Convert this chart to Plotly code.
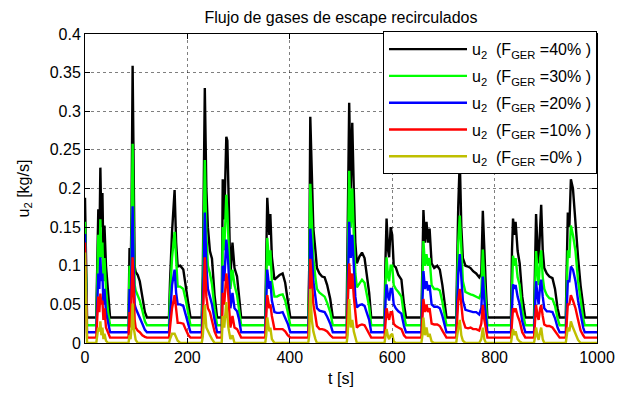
import plotly.graph_objects as go

# time [s]
t = [0, 2, 4,
     22, 24, 26, 28, 30, 32, 34, 36, 38, 41, 45, 49,
     85, 87, 89, 91, 93, 95, 97, 99, 103, 107, 112, 117, 121,
     164, 166, 170, 175, 178, 181, 186, 192, 197, 202, 206,
     228, 230, 232, 234, 237, 240, 244, 248, 253, 258,
     267, 269, 272, 276, 278, 280, 284, 288, 292, 297, 301, 305,
     352, 354, 356, 360, 362, 365, 370, 375, 380, 386, 391, 396, 401,
     436, 438, 440, 443, 446, 450, 453, 458, 463, 468, 473, 479, 484,
     511, 513, 516, 519, 522, 525, 528, 531, 536, 541, 546, 550, 555, 559,
     585, 587, 589, 592, 594, 597, 600, 603, 607, 612, 618, 623, 627,
     657, 659, 661, 664, 667, 670, 673, 677, 682, 688, 693, 698, 703, 706,
     725, 727, 729, 732, 735, 738, 743, 748, 753, 758, 764, 770, 774, 777, 780, 783, 786,
     832, 834, 836, 839, 841, 845, 849, 854, 860,
     877, 879, 881, 884, 886, 889, 891, 894, 897, 902, 907, 913, 918, 923, 927,
     939, 941, 943, 946, 949, 953, 958, 963, 968, 973, 976, 1000]

u2_40 = [0.188, 0.12, 0.033,
         0.033, 0.09, 0.173, 0.12, 0.227, 0.15, 0.194, 0.11, 0.152, 0.10, 0.06, 0.033,
         0.033, 0.123, 0.08, 0.18, 0.359, 0.2, 0.099, 0.092, 0.088, 0.08, 0.06, 0.04, 0.033,
         0.033, 0.078, 0.144, 0.198, 0.13, 0.099, 0.10, 0.095, 0.075, 0.05, 0.033,
         0.033, 0.086, 0.2, 0.33, 0.2, 0.15, 0.119, 0.109, 0.062, 0.033,
         0.033, 0.212, 0.16, 0.267, 0.262, 0.194, 0.086, 0.13, 0.097, 0.086, 0.06, 0.033,
         0.033, 0.12, 0.188, 0.14, 0.167, 0.111, 0.082, 0.085, 0.088, 0.09, 0.078, 0.055, 0.033,
         0.033, 0.1, 0.293, 0.2, 0.148, 0.12, 0.097, 0.09, 0.086, 0.085, 0.075, 0.057, 0.033,
         0.033, 0.12, 0.311, 0.2, 0.285, 0.198, 0.13, 0.103, 0.112, 0.117, 0.11, 0.09, 0.065, 0.033,
         0.033, 0.11, 0.161, 0.12, 0.111, 0.15, 0.14, 0.1, 0.098, 0.088, 0.082, 0.05, 0.033,
         0.033, 0.12, 0.172, 0.13, 0.157, 0.13, 0.148, 0.103, 0.097, 0.1, 0.095, 0.075, 0.05, 0.033,
         0.033, 0.12, 0.177, 0.238, 0.15, 0.11, 0.1, 0.099, 0.097, 0.093, 0.09, 0.085, 0.09, 0.171, 0.11, 0.07, 0.033,
         0.033, 0.12, 0.161, 0.14, 0.157, 0.119, 0.103, 0.06, 0.033,
         0.033, 0.1, 0.167, 0.12, 0.103, 0.15, 0.179, 0.12, 0.097, 0.09, 0.086, 0.084, 0.07, 0.045, 0.033,
         0.033, 0.12, 0.169, 0.15, 0.212, 0.2, 0.152, 0.111, 0.074, 0.045, 0.033, 0.033]

u2_30 = [0.157, 0.10, 0.023,
         0.023, 0.07, 0.14, 0.10, 0.16, 0.11, 0.13, 0.08, 0.11, 0.07, 0.04, 0.023,
         0.023, 0.10, 0.06, 0.14, 0.258, 0.15, 0.075, 0.068, 0.062, 0.055, 0.042, 0.028, 0.023,
         0.023, 0.06, 0.11, 0.144, 0.10, 0.073, 0.073, 0.07, 0.055, 0.035, 0.023,
         0.023, 0.065, 0.15, 0.237, 0.14, 0.1, 0.09, 0.076, 0.045, 0.023,
         0.023, 0.15, 0.12, 0.192, 0.17, 0.14, 0.07, 0.095, 0.075, 0.062, 0.045, 0.023,
         0.023, 0.09, 0.136, 0.1, 0.12, 0.08, 0.06, 0.06, 0.062, 0.063, 0.055, 0.04, 0.023,
         0.023, 0.08, 0.206, 0.15, 0.11, 0.085, 0.07, 0.065, 0.062, 0.06, 0.052, 0.04, 0.023,
         0.023, 0.09, 0.223, 0.15, 0.2, 0.14, 0.09, 0.072, 0.078, 0.082, 0.078, 0.065, 0.047, 0.023,
         0.023, 0.08, 0.111, 0.085, 0.08, 0.1, 0.1, 0.075, 0.07, 0.066, 0.06, 0.036, 0.023,
         0.023, 0.09, 0.132, 0.1, 0.115, 0.1, 0.11, 0.075, 0.07, 0.07, 0.068, 0.053, 0.035, 0.023,
         0.023, 0.09, 0.13, 0.165, 0.11, 0.08, 0.066, 0.064, 0.063, 0.062, 0.06, 0.058, 0.065, 0.121, 0.08, 0.05, 0.023,
         0.023, 0.085, 0.113, 0.1, 0.11, 0.085, 0.075, 0.042, 0.023,
         0.023, 0.07, 0.119, 0.09, 0.075, 0.11, 0.12, 0.085, 0.07, 0.062, 0.058, 0.057, 0.048, 0.032, 0.023,
         0.023, 0.09, 0.12, 0.11, 0.152, 0.14, 0.119, 0.08, 0.055, 0.032, 0.023, 0.023]

u2_20 = [0.141, 0.08, 0.014,
         0.014, 0.05, 0.09, 0.07, 0.111, 0.08, 0.09, 0.05, 0.07, 0.04, 0.025, 0.014,
         0.014, 0.07, 0.04, 0.10, 0.177, 0.10, 0.05, 0.045, 0.038, 0.033, 0.025, 0.017, 0.014,
         0.014, 0.04, 0.075, 0.095, 0.065, 0.05, 0.05, 0.048, 0.035, 0.022, 0.014,
         0.014, 0.045, 0.1, 0.169, 0.1, 0.07, 0.06, 0.05, 0.03, 0.014,
         0.014, 0.1, 0.08, 0.134, 0.12, 0.1, 0.045, 0.065, 0.045, 0.041, 0.03, 0.014,
         0.014, 0.06, 0.095, 0.07, 0.08, 0.055, 0.04, 0.039, 0.039, 0.04, 0.033, 0.025, 0.014,
         0.014, 0.055, 0.148, 0.12, 0.08, 0.06, 0.045, 0.042, 0.041, 0.04, 0.034, 0.025, 0.014,
         0.014, 0.06, 0.157, 0.11, 0.14, 0.1, 0.06, 0.046, 0.049, 0.05, 0.048, 0.04, 0.03, 0.014,
         0.014, 0.055, 0.076, 0.06, 0.055, 0.07, 0.07, 0.05, 0.045, 0.041, 0.038, 0.022, 0.014,
         0.014, 0.06, 0.093, 0.07, 0.08, 0.068, 0.075, 0.05, 0.047, 0.047, 0.045, 0.035, 0.022, 0.014,
         0.014, 0.06, 0.09, 0.115, 0.08, 0.055, 0.043, 0.042, 0.042, 0.04, 0.04, 0.037, 0.045, 0.086, 0.055, 0.03, 0.014,
         0.014, 0.06, 0.076, 0.07, 0.075, 0.06, 0.05, 0.028, 0.014,
         0.014, 0.05, 0.08, 0.06, 0.05, 0.075, 0.082, 0.06, 0.045, 0.041, 0.041, 0.04, 0.032, 0.02, 0.014,
         0.014, 0.06, 0.08, 0.08, 0.099, 0.095, 0.08, 0.055, 0.035, 0.02, 0.014, 0.014]

u2_10 = [0.13, 0.06, 0.007,
         0.007, 0.03, 0.06, 0.04, 0.064, 0.05, 0.055, 0.03, 0.045, 0.02, 0.012, 0.007,
         0.007, 0.04, 0.02, 0.06, 0.111, 0.07, 0.03, 0.02, 0.016, 0.014, 0.01, 0.008, 0.007,
         0.007, 0.02, 0.045, 0.062, 0.04, 0.026, 0.026, 0.025, 0.017, 0.01, 0.007,
         0.007, 0.025, 0.07, 0.111, 0.06, 0.045, 0.04, 0.03, 0.015, 0.007,
         0.007, 0.065, 0.05, 0.09, 0.08, 0.06, 0.02, 0.035, 0.02, 0.018, 0.012, 0.007,
         0.007, 0.035, 0.062, 0.045, 0.05, 0.035, 0.018, 0.018, 0.018, 0.018, 0.015, 0.01, 0.007,
         0.007, 0.035, 0.109, 0.08, 0.05, 0.035, 0.022, 0.018, 0.018, 0.017, 0.015, 0.01, 0.007,
         0.007, 0.04, 0.103, 0.07, 0.09, 0.06, 0.035, 0.02, 0.023, 0.024, 0.023, 0.018, 0.012, 0.007,
         0.007, 0.035, 0.045, 0.035, 0.03, 0.04, 0.04, 0.025, 0.022, 0.02, 0.018, 0.01, 0.007,
         0.007, 0.04, 0.057, 0.04, 0.05, 0.04, 0.045, 0.025, 0.024, 0.024, 0.022, 0.016, 0.01, 0.007,
         0.007, 0.04, 0.055, 0.07, 0.05, 0.03, 0.02, 0.019, 0.02, 0.018, 0.018, 0.016, 0.025, 0.049, 0.03, 0.015, 0.007,
         0.007, 0.035, 0.045, 0.04, 0.045, 0.035, 0.028, 0.014, 0.007,
         0.007, 0.03, 0.049, 0.035, 0.03, 0.045, 0.049, 0.035, 0.024, 0.022, 0.022, 0.02, 0.015, 0.01, 0.007,
         0.007, 0.035, 0.05, 0.05, 0.062, 0.055, 0.045, 0.03, 0.016, 0.01, 0.007, 0.007]

u2_0 = [0.117, 0.05, 0.0,
        0.0, 0.01, 0.02, 0.015, 0.028, 0.01, 0.02, 0.005, 0.012, 0.003, 0.0, 0.0,
        0.0, 0.01, 0.005, 0.02, 0.051, 0.02, 0.01, 0.004, 0.0, 0.0, 0.0, 0.0, 0.0,
        0.0, 0.005, 0.012, 0.012, 0.008, 0.003, 0.0, 0.0, 0.0, 0.0, 0.0,
        0.0, 0.008, 0.03, 0.049, 0.02, 0.015, 0.01, 0.005, 0.0, 0.0,
        0.0, 0.035, 0.02, 0.053, 0.04, 0.02, 0.005, 0.01, 0.0, 0.0, 0.0, 0.0,
        0.0, 0.01, 0.033, 0.015, 0.02, 0.005, 0.0, 0.0, 0.0, 0.0, 0.0, 0.0, 0.0,
        0.0, 0.01, 0.07, 0.03, 0.015, 0.005, 0.0, 0.0, 0.0, 0.0, 0.0, 0.0, 0.0,
        0.0, 0.01, 0.057, 0.02, 0.03, 0.015, 0.005, 0.0, 0.0, 0.0, 0.0, 0.0, 0.0, 0.0,
        0.0, 0.01, 0.018, 0.008, 0.005, 0.01, 0.012, 0.002, 0.0, 0.0, 0.0, 0.0, 0.0,
        0.0, 0.01, 0.033, 0.01, 0.02, 0.008, 0.012, 0.002, 0.0, 0.0, 0.0, 0.0, 0.0, 0.0,
        0.0, 0.01, 0.02, 0.03, 0.01, 0.003, 0.0, 0.0, 0.0, 0.0, 0.0, 0.0, 0.005, 0.02, 0.005, 0.0, 0.0,
        0.0, 0.01, 0.018, 0.01, 0.015, 0.005, 0.002, 0.0, 0.0,
        0.0, 0.008, 0.02, 0.008, 0.004, 0.015, 0.02, 0.005, 0.0, 0.0, 0.0, 0.0, 0.0, 0.0, 0.0,
        0.0, 0.01, 0.02, 0.015, 0.028, 0.02, 0.012, 0.004, 0.0, 0.0, 0.0, 0.0]

series_names = ["u<sub>2</sub>  (F<sub>GER</sub> =40% )",
                "u<sub>2</sub>  (F<sub>GER</sub> =30% )",
                "u<sub>2</sub>  (F<sub>GER</sub> =20% )",
                "u<sub>2</sub>  (F<sub>GER</sub> =10% )",
                "u<sub>2</sub>  (F<sub>GER</sub> =0% )"]
series_colors = ["#000000", "#00ff00", "#0000ff", "#ff0000", "#bfbf00"]
series_values = [u2_40, u2_30, u2_20, u2_10, u2_0]

FONT = "Liberation Sans, Arial, Helvetica, sans-serif"

fig = go.Figure()
for i, (name, col, vals) in enumerate(zip(series_names, series_colors, series_values)):
    fig.add_trace(go.Scatter(x=t, y=vals, mode="lines", name=name, legendgroup=f"g{i}",
                             line=dict(color=col, width=2.4)))

axis_common = dict(showline=True, linecolor="black", linewidth=1, mirror="allticks",
                   ticks="inside", ticklen=5, tickcolor="black",
                   showgrid=True, gridcolor="rgba(0,0,0,0.5)", griddash="dot", gridwidth=1,
                   zeroline=False, tickfont=dict(size=16, color="black"))

fig.update_layout(
    width=629, height=396,
    margin=dict(l=85, r=32, t=34, b=39),
    paper_bgcolor="white", plot_bgcolor="white",
    font=dict(family=FONT, size=16, color="black"),
    title=dict(text="Flujo de gases de escape recirculados", x=0.5, xref="paper",
               y=0.955, yref="container", xanchor="center", yanchor="middle",
               font=dict(size=16)),
    legend=dict(x=1.0, xanchor="right", y=1.009, yanchor="top",
                bgcolor="white", bordercolor="black", borderwidth=1,
                font=dict(size=16), tracegroupgap=3, itemwidth=78,
                traceorder="grouped"),
    showlegend=True,
)
fig.update_xaxes(range=[0, 1000], dtick=200, tick0=0,
                 title=dict(text="t [s]", standoff=7, font=dict(size=16)), **axis_common)
fig.update_yaxes(range=[0, 0.4], dtick=0.05, tick0=0,
                 title=dict(text="u<sub>2</sub> [kg/s]", standoff=16, font=dict(size=16)), **axis_common)

fig.write_html("out.html")
